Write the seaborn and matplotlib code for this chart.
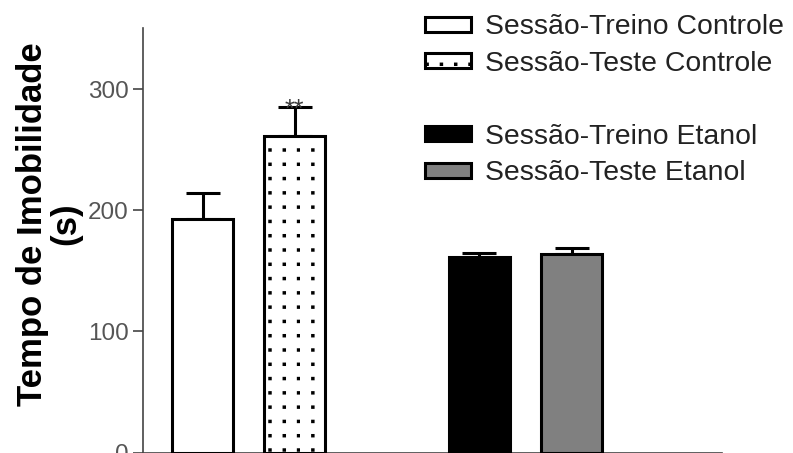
import matplotlib
matplotlib.use("Agg")
import matplotlib.pyplot as plt
import matplotlib.hatch as mhatch
from matplotlib.path import Path
from matplotlib.patches import Patch
import seaborn as sns
import pandas as pd
import numpy as np

# Immobility time per group (mean and SEM, seconds)
groups = ["Sessão-Treino Controle", "Sessão-Teste Controle",
          "Sessão-Treino Etanol", "Sessão-Teste Etanol"]
positions = [0, 1, 3, 4]
means = [193, 261, 161, 164]
sems = [21, 24, 4, 5]
fills = ["white", "white", "black", "#808080"]
hatches = ["", ".", "", ""]


class GridDots(mhatch.HatchPatternBase):
    """'.' hatch drawn as small square dots on a regular square grid."""
    filled = True
    per_unit = 7
    half = 0.009
    phase_x = 0.9
    phase_y = 0.5

    def __init__(self, hatch, density):
        self.num = hatch.count('.') * self.per_unit
        self.num_vertices = self.num * self.num * 5

    def set_vertices_and_codes(self, vertices, codes):
        step = 1.0 / self.num
        h = self.half
        square = np.array([[-h, -h], [h, -h], [h, h], [-h, h], [-h, -h]])
        k = 0
        for i in range(self.num):
            for j in range(self.num):
                cx = ((i + self.phase_x) % self.num) * step
                cy = ((j + self.phase_y) % self.num) * step
                vertices[k:k + 5] = square + (cx, cy)
                codes[k:k + 5] = [Path.MOVETO, Path.LINETO, Path.LINETO,
                                  Path.LINETO, Path.CLOSEPOLY]
                k += 5


mhatch._hatch_types[:] = [GridDots if t is mhatch.SmallFilledCircles else t
                          for t in mhatch._hatch_types]

sns.set_theme(style="white")
plt.rcParams["font.family"] = ["Liberation Sans", "DejaVu Sans"]
plt.rcParams["hatch.linewidth"] = 1.2

df = pd.DataFrame({"pos": positions, "value": means, "group": groups})

fig = plt.figure(figsize=(7.93, 4.53), dpi=100)
ax = fig.add_axes([143 / 793, 0.5 / 453, (722 - 143) / 793, 424 / 453])

sns.barplot(data=df, x="pos", y="value", hue="group", hue_order=groups,
            palette=dict(zip(groups, fills)), native_scale=True, dodge=False,
            width=0.66, errorbar=None, edgecolor="black", linewidth=2.2,
            legend=False, ax=ax, zorder=3)

for patch, h in zip(ax.patches, hatches):
    patch.set_hatch(h)

ax.errorbar(positions, means, yerr=[np.zeros(len(sems)), sems], fmt="none",
            ecolor="black", elinewidth=2.2, capsize=12, capthick=2.2, zorder=2)

# significance mark sitting on the cap of the second bar
ax.text(positions[1], means[1] + sems[1] - 8, "**", ha="center", va="baseline",
        fontsize=18, color="#3a3a3a")

ax.set_xlim(-0.645, 5.63)
ax.set_ylim(0, 350)
ax.set_yticks([0, 100, 200, 300])
ax.set_xticks([])
ax.set_xlabel("")
ax.set_ylabel("")
for side in ["top", "right"]:
    ax.spines[side].set_visible(False)
for side in ["left", "bottom"]:
    ax.spines[side].set_color("#444444")
    ax.spines[side].set_linewidth(1.2)
ax.tick_params(axis="y", direction="out", length=7, width=1.2, color="#444444",
               labelsize=17.5, labelcolor="#555555", pad=3.5, left=True)

fig.text(49 / 793, 1 - 224 / 453, "Tempo de Imobilidade\n(s)", rotation=90,
         ha="center", va="center", multialignment="center",
         fontsize=25, fontweight="bold", color="black", linespacing=1.0)

handles = [Patch(facecolor=fills[0], edgecolor="black", linewidth=2.2),
           Patch(facecolor=fills[1], edgecolor="black", linewidth=2.2, hatch="."),
           Patch(facecolor="none", edgecolor="none"),
           Patch(facecolor=fills[2], edgecolor="black", linewidth=2.2),
           Patch(facecolor=fills[3], edgecolor="black", linewidth=2.2)]
labels = [groups[0], groups[1], "", groups[2], groups[3]]
leg = fig.legend(handles, labels, loc="upper left",
                 bbox_to_anchor=(407 / 793, 1 + 4 / 453), frameon=False,
                 fontsize=20.4, handlelength=1.6, handleheight=0.45,
                 handletextpad=0.5, labelspacing=0.37, borderpad=0.15)
for t in leg.get_texts():
    t.set_color("#222222")

fig.savefig("out.png", dpi=100)
